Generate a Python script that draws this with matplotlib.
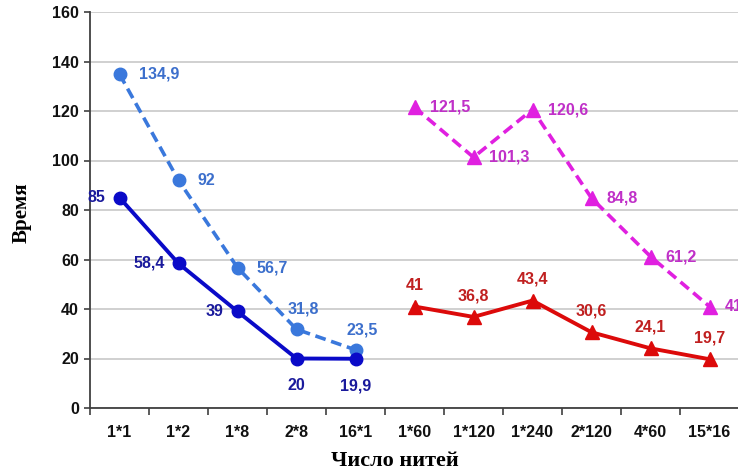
import matplotlib
matplotlib.use('Agg')
import matplotlib.pyplot as plt

categories = ['1*1', '1*2', '1*8', '2*8', '16*1', '1*60', '1*120', '1*240', '2*120', '4*60', '15*16']

# left group (circles)
solid_blue = [85, 58.4, 39, 20, 19.9]
dashed_blue = [134.9, 92, 56.7, 31.8, 23.5]
# right group (triangles)
solid_red = [41, 36.8, 43.4, 30.6, 24.1, 19.7]
dashed_magenta = [121.5, 101.3, 120.6, 84.8, 61.2, 41]

x_left = list(range(0, 5))
x_right = list(range(5, 11))

fig = plt.figure(figsize=(7.38, 4.75), dpi=100)
ax = fig.add_axes([90 / 738, 1 - 408 / 475, 649 / 738, 396 / 475])

ax.plot(x_left, dashed_blue, color='#3a78dc', lw=2.6, ls=(0, (3, 1.6)),
        marker='o', ms=9, zorder=3)
ax.plot(x_left, solid_blue, color='#0a0ac8', lw=2.8, marker='o', ms=9, zorder=4)
ax.plot(x_right, dashed_magenta, color='#e020e0', lw=2.6, ls=(0, (3, 1.6)),
        marker='^', ms=10, zorder=3)
ax.plot(x_right, solid_red, color='#dc0a0a', lw=2.8, marker='^', ms=10, zorder=4)

def fmt(v):
    return ('%g' % v).replace('.', ',')

lab = dict(fontsize=11.5, fontweight='bold', family='Liberation Sans')

for i, v in zip(x_left, dashed_blue):
    if i < 3:
        ax.annotate(fmt(v), (i, v), xytext=(14, 0), textcoords='offset points',
                    ha='left', va='center', color='#3c6fcc', **lab)
    else:
        ax.annotate(fmt(v), (i, v), xytext=(5, 9), textcoords='offset points',
                    ha='center', va='bottom', color='#3c6fcc', **lab)

for i, v in zip(x_left, solid_blue):
    if i < 3:
        ax.annotate(fmt(v), (i, v), xytext=(-10, 0), textcoords='offset points',
                    ha='right', va='center', color='#1a1a9c', **lab)
    else:
        ax.annotate(fmt(v), (i, v), xytext=(0, -14), textcoords='offset points',
                    ha='center', va='top', color='#1a1a9c', **lab)

for i, v in zip(x_right, dashed_magenta):
    ax.annotate(fmt(v), (i, v), xytext=(11, 0), textcoords='offset points',
                ha='left', va='center', color='#c030c8', **lab)

for i, v in zip(x_right, solid_red):
    ax.annotate(fmt(v), (i, v), xytext=(0, 10), textcoords='offset points',
                ha='center', va='bottom', color='#c02020', **lab)

ax.set_xlim(-0.5, 10.5)
ax.set_ylim(0, 160)
ax.set_yticks(range(0, 161, 20))
ax.set_xticks(range(11))
ax.set_xticklabels(categories)
ax.set_xticks([i + 0.5 for i in range(-1, 11)], minor=True)
ax.tick_params(axis='x', which='major', length=0, pad=12)
ax.tick_params(axis='x', which='minor', length=5, width=1.2, color='#404040')
ax.tick_params(axis='y', length=4, width=1.2, color='#404040', pad=4)
for t in ax.get_xticklabels() + ax.get_yticklabels():
    t.set_fontsize(11.5)
    t.set_fontweight('bold')
    t.set_family('Liberation Sans')
    t.set_color('#111111')

ax.grid(axis='y', color='#c4c4c4', lw=1.1)
ax.set_axisbelow(True)
for s in ['top', 'right']:
    ax.spines[s].set_visible(False)
for s in ['left', 'bottom']:
    ax.spines[s].set_color('#404040')
    ax.spines[s].set_linewidth(1.3)

fig.text(22 / 738, 1 - 213 / 475, 'Время', rotation=90, ha='center', va='center',
         fontsize=15, fontweight='bold', family='Liberation Serif')
fig.text(395 / 738, 1 - 461 / 475, 'Число нитей', ha='center', va='center',
         fontsize=16, fontweight='bold', family='Liberation Serif')

fig.savefig('out.png', dpi=100)
